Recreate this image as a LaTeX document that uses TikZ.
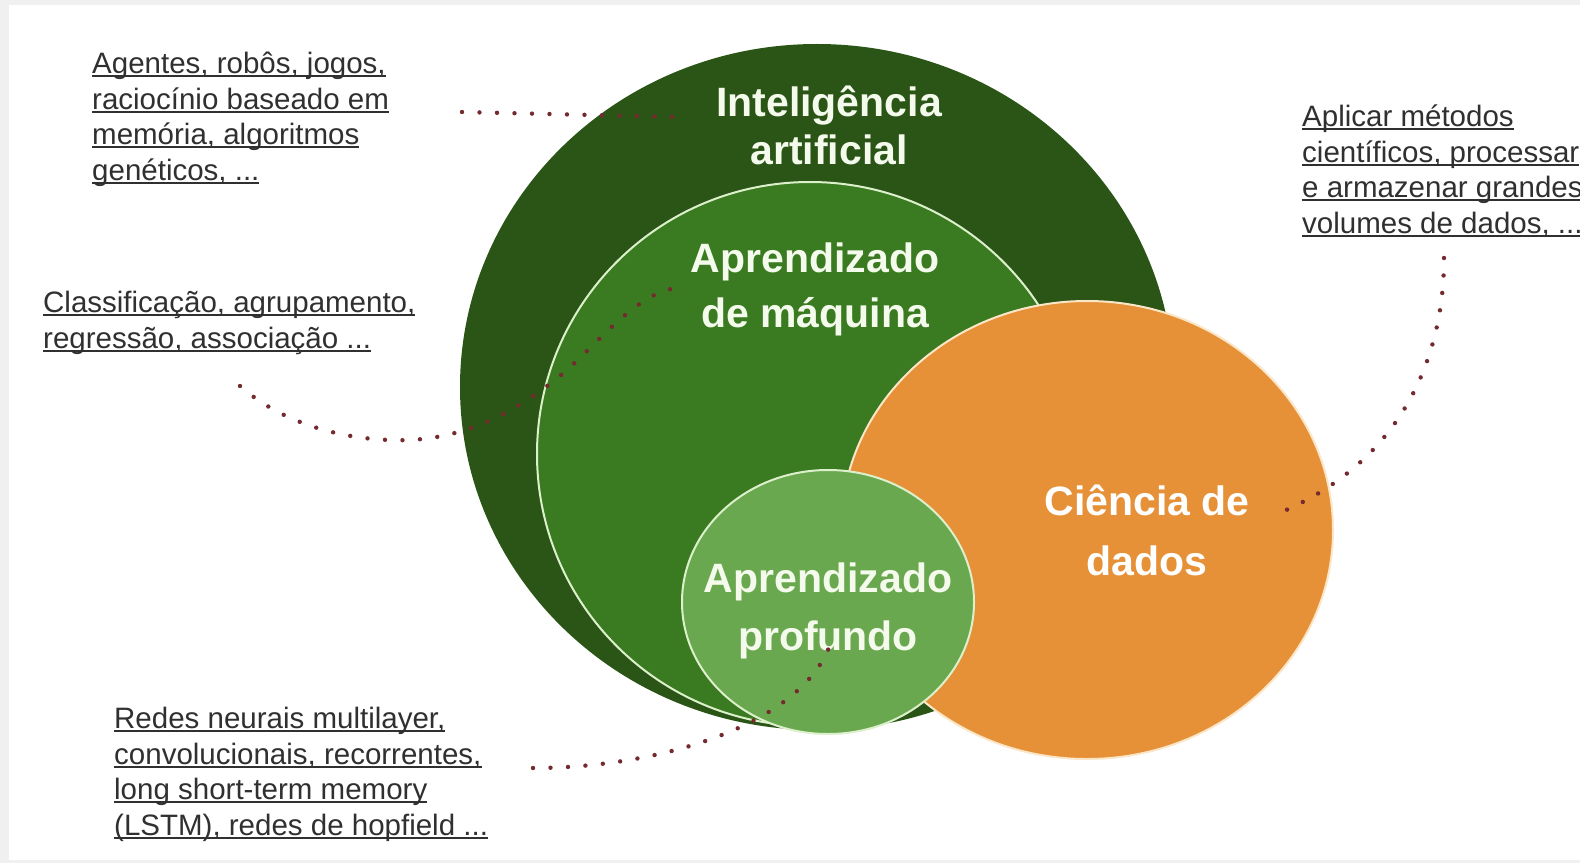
\documentclass[tikz,border=0pt]{standalone}
\usepackage{fontspec}
\setmainfont{Liberation Sans}
\usetikzlibrary{shapes.geometric}
\definecolor{aiG}{HTML}{2A5516}
\definecolor{mlG}{HTML}{3A7A20}
\definecolor{dlG}{HTML}{6AA84F}
\definecolor{dsO}{HTML}{E69138}
\definecolor{dotC}{HTML}{742A2E}
\definecolor{txtC}{HTML}{303030}
\definecolor{frameC}{HTML}{F0F0F0}
\definecolor{edgeG}{HTML}{DDF0CC}
\definecolor{edgeO}{HTML}{FBE6C8}
\definecolor{labW}{HTML}{F4FAEC}
\newcommand\ulx[1]{\setbox0=\hbox{#1}\rlap{\rule[-3.5bp]{\wd0}{1.6bp}}\box0}
\begin{document}
\begin{tikzpicture}[x=1bp,y=-1bp,
  blob/.style={ellipse, inner sep=0pt, outer sep=0pt},
  bigw/.style={anchor=base, align=center, inner sep=0pt, text=labW,
    font=\bfseries\fontsize{41bp}{#1}\selectfont},
  note/.style={anchor=base west, align=left, inner sep=0pt, text=txtC,
    font=\fontsize{29.5bp}{35.5bp}\selectfont},
  dotline/.style={draw=dotC, line width=4.4bp, line cap=round, dash pattern=on 0bp off 17.5bp}
]
\useasboundingbox (0,0) rectangle (1580,863);
\fill[frameC] (0,0) rectangle (1580,863);
\fill[white] (9,5) rectangle (1580,860);

% circles
\node[blob, fill=aiG, minimum width=714bp, minimum height=686bp] (ai) at (817,387) {};
\node[blob, fill=mlG, draw=edgeG, line width=2bp, minimum width=546bp, minimum height=544bp] (ml) at (810,454) {};
\node[blob, fill=dsO, draw=edgeO, line width=2bp, minimum width=492bp, minimum height=458bp] (ds) at (1087,530) {};
\node[blob, fill=dlG, draw=edgeG, line width=2bp, minimum width=292bp, minimum height=264bp] (dl) at (828,602) {};

% labels inside (anchor = baseline of the last line)
\node[bigw=48bp] (tai) at (829,164) {Inteligência\\artificial};
\node[bigw=55bp] (tml) at (815,327) {Aprendizado\\de máquina};
\node[bigw=60bp, text=white] (tds) at (1147,575) {Ciência de\\dados};
\node[bigw=58bp] (tdl) at (828,650) {Aprendizado\\profundo};

% annotations (anchor = baseline of the last line)
\node[note] (n1) at (92,180) {\ulx{Agentes, robôs, jogos,}\\\ulx{raciocínio baseado em}\\\ulx{memória, algoritmos}\\\ulx{genéticos, ...}};
\node[note] (n2) at (43,348) {\ulx{Classificação, agrupamento,}\\\ulx{regressão, associação ...}};
\begin{scope}
\clip (0,0) rectangle (1580,863);
\node[note] (n3) at (1302,233) {\ulx{Aplicar métodos}\\\ulx{científicos, processar}\\\ulx{e armazenar grandes}\\\ulx{volumes de dados, ...}};
\end{scope}
\node[note] (n4) at (114,835) {\ulx{Redes neurais multilayer,}\\\ulx{convolucionais, recorrentes,}\\\ulx{long short-term memory}\\\ulx{(LSTM), redes de hopfield ...}};

% connector end points
\coordinate (c1s) at (462,112);
\coordinate (c1e) at (678,117);
\coordinate (c2s) at (240,386);
\coordinate (c2m) at (410,440);
\coordinate (c2n) at (567,370);
\coordinate (c2e) at (677,288);
\coordinate (c3s) at (1444,258);
\coordinate (c3e) at (1284,511);
\coordinate (c4s) at (533,768);
\coordinate (c4e) at (830,645);

\draw[dotline] (c1s) -- (c1e);
\draw[dotline] (c2s) .. controls (290,430) and (360,442) .. (c2m)
  .. controls (470,437) and (520,410) .. (c2n)
  .. controls (605,335) and (640,292) .. (c2e);
\draw[dotline] (c3s) .. controls (1444,360) and (1400,460) .. (c3e);
\draw[dotline] (c4s) .. controls (660,768) and (800,725) .. (c4e);
\end{tikzpicture}
\end{document}
